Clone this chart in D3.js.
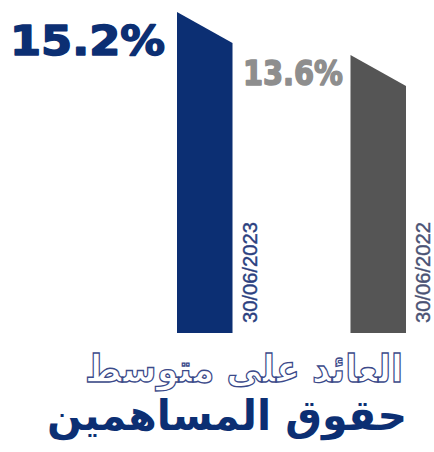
<!DOCTYPE html>
<html><head><meta charset="utf-8">
<script src="https://cdn.jsdelivr.net/npm/d3@7"></script>
<style>body{margin:0;background:#fff}svg{display:block}</style>
</head><body>
<script>
const categories = ["30/06/2023", "30/06/2022"];
const values = [15.2, 13.6];
const valueLabels = ["15.2%", "13.6%"];
const titleLine1 = "العائد على متوسط";
const titleLine2 = "حقوق المساهمين";

const W = 434, H = 452;
const svg = d3.select("body").append("svg").attr("width", W).attr("height", H);

const x = d3.scaleBand().domain(categories).range([177, 406]).paddingInner(0.68).paddingOuter(0);
const y = d3.scaleLinear().domain([3.26, 15.2]).range([333, 12]);
const slant = 31;
const barColors = ["#0c2f73", "#555555"];
const labelColors = ["#0c2f73", "#8e8e8e"];
const dateColors = ["#2b3f7f", "#4a5274"];

categories.forEach((c, i) => {
  const x0 = x(c), x1 = x(c) + x.bandwidth();
  const yt = y(values[i]), yb = y(3.26);
  svg.append("path")
    .attr("d", `M${x0},${yb}L${x0},${yt}L${x1},${yt + slant}L${x1},${yb}Z`)
    .attr("fill", barColors[i]);
  svg.append("text")
    .attr("transform", `translate(${x1 + 24},${yb - 10}) rotate(-90)`)
    .attr("font-family", "Liberation Sans, Arial, sans-serif")
    .attr("font-size", 21)
    .attr("fill", dateColors[i])
    .attr("stroke", dateColors[i]).attr("stroke-width", 0.4)
    .attr("textLength", 101).attr("lengthAdjust", "spacingAndGlyphs")
    .text(c);
});

const vl = [
  {x: 10, y: 55, size: 41, len: 155},
  {x: 243, y: 85, size: 34, len: 100}
];
valueLabels.forEach((t, i) => {
  svg.append("text")
    .attr("x", vl[i].x).attr("y", vl[i].y)
    .attr("font-family", "DejaVu Sans, sans-serif")
    .attr("font-weight", "bold")
    .attr("font-size", vl[i].size)
    .attr("fill", labelColors[i])
    .attr("stroke", labelColors[i]).attr("stroke-width", 1.6).attr("stroke-linejoin", "round")
    .attr("textLength", vl[i].len).attr("lengthAdjust", "spacingAndGlyphs")
    .text(t);
});

svg.append("text")
  .attr("x", 85).attr("y", 382)
  .attr("font-family", "DejaVu Sans, sans-serif")
  .attr("font-weight", "bold")
  .attr("font-size", 38)
  .attr("fill", "#fff").attr("stroke", "#3b4a8a").attr("stroke-width", 1.3)
  .attr("textLength", 318).attr("lengthAdjust", "spacingAndGlyphs")
  .text(titleLine1);
svg.append("text")
  .attr("x", 47).attr("y", 430)
  .attr("font-family", "DejaVu Sans, sans-serif")
  .attr("font-weight", "bold")
  .attr("font-size", 42)
  .attr("fill", "#0c2f73")
  .attr("textLength", 360).attr("lengthAdjust", "spacingAndGlyphs")
  .text(titleLine2);
</script>
</body></html>
